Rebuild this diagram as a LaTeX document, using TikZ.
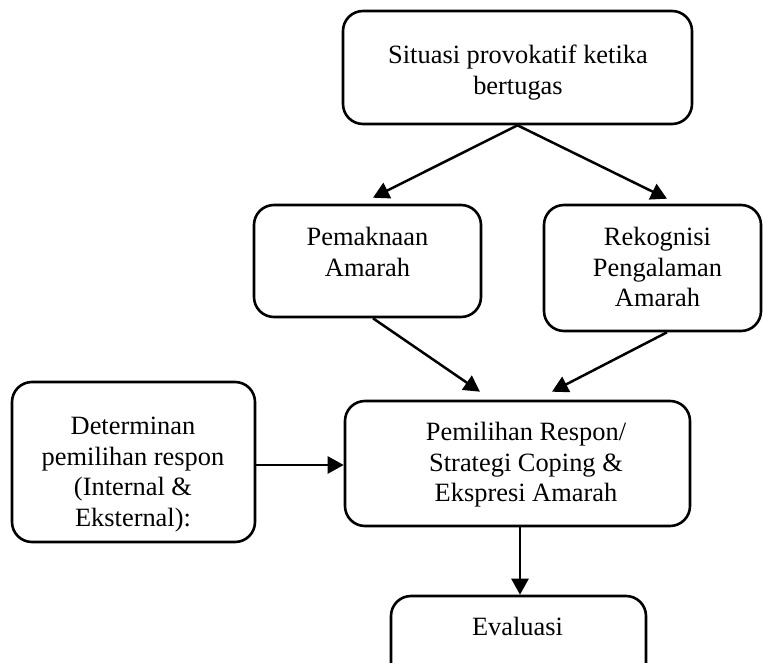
\documentclass[tikz,border=0pt]{standalone}
\usepackage{fontspec}
\setmainfont{Liberation Serif}
\usetikzlibrary{arrows.meta}
\begin{document}
\begin{tikzpicture}[x=1pt,y=-1pt,
  box/.style={draw, line width=2.6pt, rounded corners=20pt, inner sep=0pt, shape=rectangle},
  txt/.style={anchor=north, align=center, inner sep=0pt, font=\fontsize{26.4}{30.5}\selectfont},
  arr/.style={line width=2.5pt, -{Triangle[length=16pt,width=17pt]}}]
\useasboundingbox (0,0) rectangle (763,663);
\clip (0,0) rectangle (763,663);

% boxes
\node[box, minimum width=349pt, minimum height=113pt] (top) at (517.5,67.5) {};
\node[box, minimum width=227pt, minimum height=112pt] (pem) at (367.5,261) {};
\node[box, minimum width=217pt, minimum height=126pt] (rek) at (652.5,268) {};
\node[box, minimum width=243pt, minimum height=160pt] (det) at (133.5,462) {};
\node[box, minimum width=345pt, minimum height=125pt] (pemil) at (517.5,463.5) {};
\node[box, minimum width=255pt, minimum height=104pt] (eval) at (518.5,648) {};

% texts
\node[txt] (toptxt) at (518,45) {Situasi provokatif ketika\\bertugas};
\node[txt] (pemtxt) at (367.5,227) {Pemaknaan\\Amarah};
\node[txt] (rektxt) at (657.5,227) {Rekognisi\\Pengalaman\\Amarah};
\node[txt] (dettxt) at (133,417) {Determinan\\pemilihan respon\\(Internal \&\\Eksternal):};
\node[txt] (pemiltxt) at (526,422) {Pemilihan Respon/\\Strategi Coping \&\\Ekspresi Amarah};
\node[txt] (evaltxt) at (517.5,617) {Evaluasi};

% connectors
\draw[arr] (top.south) -- ([xshift=5.5pt,yshift=6pt]pem.north);
\draw[arr] (top.south) -- ([xshift=14.5pt,yshift=5pt]rek.north);
\draw[arr] ([xshift=5.5pt]pem.south) -- ([xshift=-37.5pt,yshift=8pt]pemil.north);
\draw[arr] ([xshift=14.5pt]rek.south) -- ([xshift=34.5pt,yshift=8pt]pemil.north);
\draw[arr] ([yshift=-3pt]det.east) -- ([yshift=-3pt]det.east -| pemil.west);
\draw[arr] ([xshift=2.5pt]pemil.south) -- ([xshift=2.5pt]pemil.south |- eval.north);
\end{tikzpicture}
\end{document}
